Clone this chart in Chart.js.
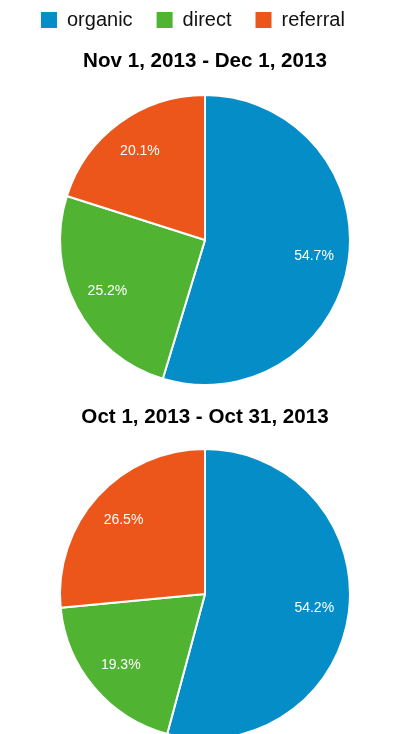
<!DOCTYPE html>
<html>
<head>
<meta charset="utf-8">
<script src="https://cdn.jsdelivr.net/npm/chart.js@4.4.1/dist/chart.umd.min.js"></script>
<style>
  html, body { margin: 0; padding: 0; background: #fff; overflow: hidden; width: 401px; height: 734px; }
  canvas { display: block; }
  #novChart { margin-top: -14px; }
</style>
</head>
<body>
<canvas id="novChart" width="401" height="400"></canvas>
<canvas id="octChart" width="401" height="370"></canvas>
<script>
// Data
const sources = ['organic', 'direct', 'referral'];
const sourceColors = ['#058DC7', '#50B432', '#ED561B'];

const novTitle = 'Nov 1, 2013 - Dec 1, 2013';
const novShare = [54.7, 25.2, 20.1];

const octTitle = 'Oct 1, 2013 - Oct 31, 2013';
const octShare = [54.2, 19.3, 26.5];

Chart.defaults.font.family = 'Arial, "Liberation Sans", sans-serif';
Chart.defaults.color = '#111';

// write the percentage inside each slice
const sliceLabels = {
    id: 'sliceLabels',
    afterDatasetsDraw(chart) {
        const ctx = chart.ctx;
        const meta = chart.getDatasetMeta(0);
        const values = chart.data.datasets[0].data;
        ctx.save();
        ctx.font = '14px Arial, "Liberation Sans", sans-serif';
        ctx.fillStyle = '#fff';
        ctx.textAlign = 'center';
        ctx.textBaseline = 'middle';
        meta.data.forEach((arc, i) => {
            const p = arc.getProps(['x', 'y', 'startAngle', 'endAngle', 'outerRadius'], true);
            const mid = (p.startAngle + p.endAngle) / 2;
            const r = p.outerRadius * 0.76;
            ctx.fillText(values[i].toFixed(1) + '%', p.x + Math.cos(mid) * r, p.y + Math.sin(mid) * r);
        });
        ctx.restore();
    }
};

function legendItems(chart) {
    const base = Chart.overrides.doughnut.plugins.legend.labels.generateLabels;
    const items = base(chart);
    items.forEach(item => {
        item.lineWidth = 0;
        item.strokeStyle = 'rgba(0,0,0,0)';
    });
    return items;
}

function createPie(canvasId, title, values, showLegend, titlePad, bottomPad) {
    const ctx = document.getElementById(canvasId).getContext('2d');
    return new Chart(ctx, {
        type: 'pie',
        data: {
            labels: sources,
            datasets: [{
                data: values,
                backgroundColor: sourceColors,
                borderColor: '#fff',
                borderWidth: 2
            }]
        },
        options: {
            responsive: false,
            animation: false,
            layout: { padding: { left: 17, right: 8, top: 0, bottom: bottomPad } },
            plugins: {
                legend: {
                    display: showLegend,
                    position: 'top',
                    align: 'start',
                    weight: 3000,
                    maxHeight: 50,
                    labels: {
                        boxWidth: 16,
                        boxHeight: 16,
                        padding: 24,
                        color: '#111',
                        font: { size: 20 },
                        generateLabels: legendItems
                    }
                },
                title: {
                    display: true,
                    text: title,
                    color: '#000',
                    font: { size: 20.6, weight: 'bold' },
                    padding: titlePad
                },
                tooltip: { enabled: false }
            }
        },
        plugins: [sliceLabels]
    });
}

createPie('novChart', novTitle, novShare, true, { top: 13, bottom: 20.3 }, 0);
createPie('octChart', octTitle, octShare, false, { top: 19, bottom: 18.3 }, 16);
</script>
</body>
</html>
